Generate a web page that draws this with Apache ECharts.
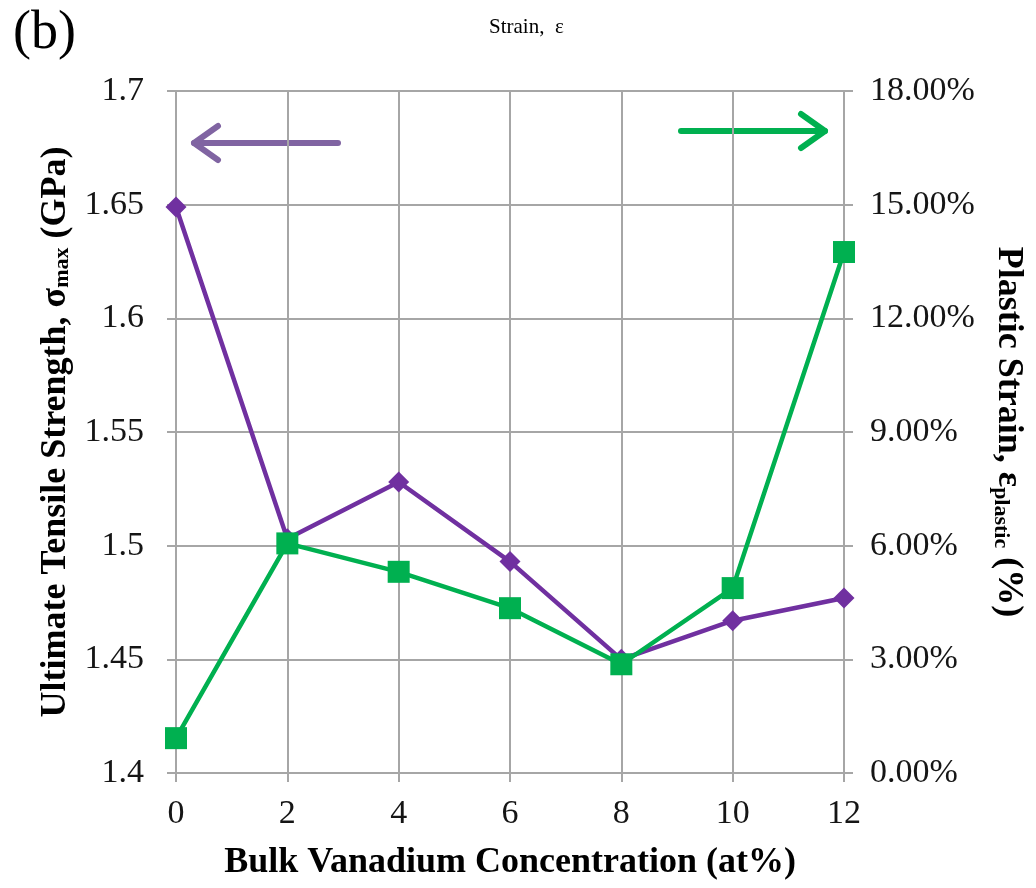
<!DOCTYPE html>
<html>
<head>
<meta charset="utf-8">
<script src="https://cdn.jsdelivr.net/npm/echarts@6/dist/echarts.min.js"></script>
<style>html,body{margin:0;padding:0;background:#fff;}#chart{width:1036px;height:888px;}</style>
</head>
<body>
<div id="chart"></div>
<script>
// Data
var concentration = [0, 2, 4, 6, 8, 10, 12];
var uts = [1.649, 1.503, 1.528, 1.493, 1.450, 1.467, 1.477];          // GPa (left axis)
var plasticStrain = [0.92, 6.06, 5.31, 4.35, 2.87, 4.88, 13.75];      // % (right axis)
var xTicks = [0, 2, 4, 6, 8, 10, 12];

var FONT = '"Liberation Serif", "Times New Roman", serif';
var chart = echarts.init(document.getElementById('chart'));

function pairs(xs, ys) { return xs.map(function (x, i) { return [x, ys[i]]; }); }

var gridColor = '#a6a6a6';
var labelColor = '#151515';
chart.setOption({
  animation: false,
  backgroundColor: '#fff',
  title: [
    { text: '(b)', left: 8, top: 2, textStyle: { fontFamily: FONT, fontSize: 54, fontWeight: 'normal', color: '#000' } },
    { text: 'Strain,  ε', left: 484, top: 12, textStyle: { fontFamily: FONT, fontSize: 21, fontWeight: 'normal', color: '#000' } }
  ],
  grid: { left: 176, right: 192, top: 91, bottom: 115, containLabel: false },
  xAxis: {
    type: 'value', min: 0, max: 12, interval: 2,
    name: 'Bulk Vanadium Concentration (at%)', nameLocation: 'middle', nameGap: 72,
    nameTextStyle: { fontFamily: FONT, fontSize: 36, fontWeight: 'bold', color: '#000' },
    axisLine: { show: true, lineStyle: { color: gridColor, width: 2 } },
    axisTick: { show: true, length: 9, lineStyle: { color: gridColor, width: 2 } },
    axisLabel: { margin: 24, fontFamily: FONT, fontSize: 34, color: labelColor, formatter: function (v) { return xTicks.indexOf(v) >= 0 ? String(v) : ''; } },
    splitLine: { show: true, lineStyle: { color: gridColor, width: 2 } }
  },
  yAxis: [
    {
      type: 'value', position: 'left', min: 1.4, max: 1.7, interval: 0.05,
      name: '{t|Ultimate Tensile Strength, σ}{s|max}{t| (GPa)}', nameLocation: 'middle', nameGap: 102, nameRotate: 90,
      nameTextStyle: {
        rich: {
          t: { fontFamily: FONT, fontSize: 36, fontWeight: 'bold', color: '#000' },
          s: { fontFamily: FONT, fontSize: 22, fontWeight: 'bold', color: '#000', padding: [14, 0, 0, 0] }
        }
      },
      axisLine: { show: true, lineStyle: { color: gridColor, width: 2 } },
      axisTick: { show: true, length: 9, lineStyle: { color: gridColor, width: 2 } },
      axisLabel: { margin: 32, fontFamily: FONT, fontSize: 34, color: labelColor },
      splitLine: { show: true, lineStyle: { color: gridColor, width: 2 } }
    },
    {
      type: 'value', position: 'right', min: 0, max: 18, interval: 3,
      name: '{t|Plastic Strain, ε}{s|plastic}{t| (%)}', nameLocation: 'middle', nameGap: 146, nameRotate: -90,
      nameTextStyle: {
        rich: {
          t: { fontFamily: FONT, fontSize: 36, fontWeight: 'bold', color: '#000' },
          s: { fontFamily: FONT, fontSize: 22, fontWeight: 'bold', color: '#000', padding: [14, 0, 0, 0] }
        }
      },
      axisLine: { show: true, lineStyle: { color: gridColor, width: 2 } },
      axisTick: { show: true, length: 9, lineStyle: { color: gridColor, width: 2 } },
      axisLabel: { margin: 26, fontFamily: FONT, fontSize: 34, color: labelColor, formatter: function (v) { return v.toFixed(2) + '%'; } },
      splitLine: { show: false }
    }
  ],
  series: [
    {
      type: 'line', yAxisIndex: 0, data: pairs(concentration, uts),
      symbol: 'diamond', symbolSize: 21,
      lineStyle: { color: '#7030A0', width: 4.5 },
      itemStyle: { color: '#7030A0' }, z: 3
    },
    {
      type: 'line', yAxisIndex: 1, data: pairs(concentration, plasticStrain),
      symbol: 'rect', symbolSize: 22,
      lineStyle: { color: '#00B050', width: 4.5 },
      itemStyle: { color: '#00B050' }, z: 4
    }
  ],
  graphic: [
    { type: 'line', shape: { x1: 194, y1: 143, x2: 338, y2: 143 }, style: { stroke: '#8064A2', lineWidth: 6, lineCap: 'round' } },
    { type: 'polyline', shape: { points: [[218, 126], [194, 143], [218, 160]] }, style: { stroke: '#8064A2', fill: null, lineWidth: 6, lineCap: 'round', lineJoin: 'round' } },
    { type: 'line', shape: { x1: 681, y1: 131, x2: 825, y2: 131 }, style: { stroke: '#00B050', lineWidth: 6, lineCap: 'round' } },
    { type: 'polyline', shape: { points: [[801, 114], [825, 131], [801, 148]] }, style: { stroke: '#00B050', fill: null, lineWidth: 6, lineCap: 'round', lineJoin: 'round' } }
  ]
});
</script>
</body>
</html>
